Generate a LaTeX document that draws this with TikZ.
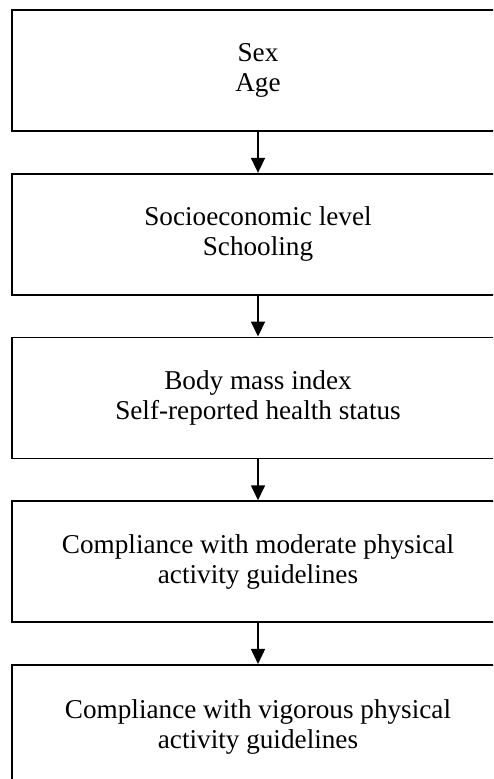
\documentclass[tikz,border=0pt]{standalone}
\usepackage{fontspec}
\setmainfont{Liberation Serif}
\usetikzlibrary{positioning,arrows.meta}

\begin{document}
\begin{tikzpicture}[x=0.5pt,y=-0.5pt,
  box/.style={draw,line width=0.85pt,minimum width=246pt,minimum height=60.5pt,
    align=center,inner sep=0pt,font=\fontsize{13.6}{15}\selectfont},
  arr/.style={-{Triangle[length=7.5pt,width=7pt]},line width=0.85pt},
  node distance=20.5pt]
  \useasboundingbox (0,0) rectangle (493,779);
  \clip (0,0) rectangle (493,779);
  \node[box] (demo) at (258,70.5) {Sex\\Age};
  \node[box,below=of demo] (socio) {Socioeconomic level\\Schooling};
  \node[box,below=of socio] (health) {Body mass index\\Self-reported health status};
  \node[box,below=of health] (moderate) {Compliance with moderate physical\\activity guidelines};
  \node[box,below=of moderate,minimum height=62pt] (vigorous) {Compliance with vigorous physical\\activity guidelines}; % cut off at the bottom
  \draw[arr] (demo) -- (socio);
  \draw[arr] (socio) -- (health);
  \draw[arr] (health) -- (moderate);
  \draw[arr] (moderate) -- (vigorous);
\end{tikzpicture}
\end{document}
